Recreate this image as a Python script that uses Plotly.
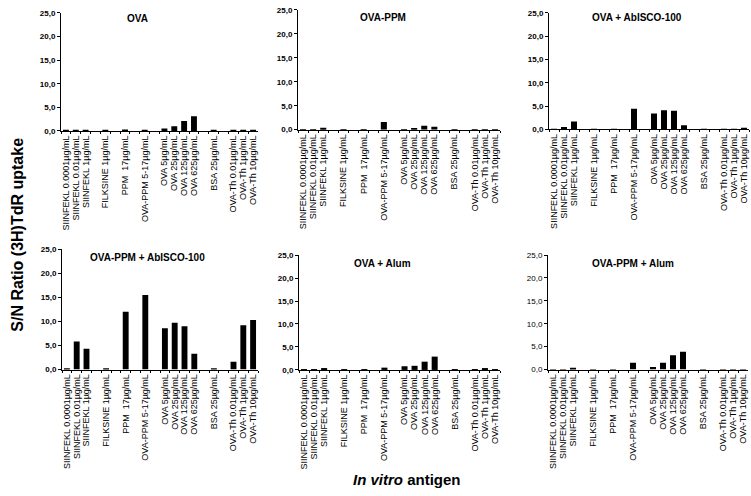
import plotly.graph_objects as go

W, H = 751, 496

categories = ["SIINFEKL 0.0001µg/mL", "SIINFEKL 0.01µg/mL", "SIINFEKL 1µg/mL",
              "FILKSINE 1µg/mL", "PPM  17µg/mL", "OVA-PPM 5-17µg/mL",
              "OVA 5µg/mL", "OVA 25µg/mL", "OVA 125µg/mL", "OVA 625µg/mL",
              "BSA 25µg/mL", "OVA-Th 0.01µg/mL", "OVA-Th 1µg/mL", "OVA-Th 10µg/mL"]
group_sizes = [3, 1, 1, 1, 4, 1, 3]

panel_titles = ["OVA", "OVA-PPM", "OVA + AbISCO-100",
                "OVA-PPM + AbISCO-100", "OVA + Alum", "OVA-PPM + Alum"]

ova = [0.1, 0.2, 0.2, 0.1, 0.3, 0.2, 0.5, 1.0, 2.1, 3.1, 0.1, 0.1, 0.1, 0.1]
ova_ppm = [0.1, 0.1, 0.4, 0.1, 0.1, 1.6, 0.1, 0.2, 0.8, 0.6, 0.1, 0.1, 0.1, 0.1]
ova_abisco = [0.1, 0.5, 1.7, 0.1, 0.1, 4.4, 3.4, 4.1, 4.0, 0.9, 0.1, 0.1, 0.1, 0.35]
ova_ppm_abisco = [0.1, 5.8, 4.3, 0.1, 12.0, 15.5, 8.6, 9.7, 9.0, 3.3, 0.1, 1.6, 9.2, 10.3]
ova_alum = [0.1, 0.1, 0.3, 0.1, 0.1, 0.5, 0.8, 0.9, 1.8, 2.9, 0.1, 0.1, 0.2, 0.1]
ova_ppm_alum = [0.1, 0.1, 0.4, 0.1, 0.1, 1.5, 0.55, 1.5, 3.1, 3.9, 0.1, 0.1, 0.1, 0.1]

series = [ova, ova_ppm, ova_abisco, ova_ppm_abisco, ova_alum, ova_ppm_alum]

y_ticks = [0, 5, 10, 15, 20, 25]

# category order with blank spacer slots between groups
cat_order = []
idx = 0
for g, n in enumerate(group_sizes):
    cat_order.extend(categories[idx:idx + n])
    idx += n
    if g < len(group_sizes) - 1:
        cat_order.append(" " * (g + 1))

# panel boxes in pixels: (x0, x1, ytop, ybottom), title center (x, y)
boxes = [(61, 258, 9, 129.3), (298, 500, 6, 128), (549, 749, 9, 127.7),
         (62, 258, 249.7, 372.3), (299, 500, 255.7, 372.7), (548, 748, 255.7, 372.3)]
title_pos = [(137, 15), (383, 14), (637, 14), (147, 258), (382, 264), (633, 264)]

FONT = "Liberation Sans, Arial, sans-serif"
fig = go.Figure()
annotations = []
for i, (vals, box) in enumerate(zip(series, boxes)):
    n = i + 1
    xa = "x" if n == 1 else f"x{n}"
    ya = "y" if n == 1 else f"y{n}"
    fig.add_trace(go.Bar(x=categories, y=vals, xaxis=xa, yaxis=ya,
                         marker=dict(color="black", line=dict(width=0)),
                         width=0.6, showlegend=False, cliponaxis=False))
    x0, x1, yt, yb = box
    xkey = "xaxis" if n == 1 else f"xaxis{n}"
    ykey = "yaxis" if n == 1 else f"yaxis{n}"
    fig.layout[xkey] = dict(
        domain=[x0 / W, x1 / W], anchor=ya, type="category",
        categoryorder="array", categoryarray=cat_order,
        range=[-0.5, len(cat_order) - 0.5],
        tickmode="linear", tick0=0, dtick=1,
        tickangle=-90, tickfont=dict(family=FONT, size=9, color="black"),
        showline=True, linecolor="black", linewidth=1,
        ticks="outside", ticklen=2, tickcolor="black", tickson="boundaries",
        showgrid=False, zeroline=False, fixedrange=True)
    fig.layout[ykey] = dict(
        domain=[1 - yb / H, 1 - yt / H], anchor=xa, range=[0, 25],
        tickvals=y_ticks, tickformat=".1f",
        tickfont=dict(family=FONT, size=8, color="black",
                      weight="bold" if n != 6 else "normal"),
        showline=True, linecolor="black", linewidth=1,
        ticks="outside", ticklen=3, tickcolor="black",
        showgrid=False, zeroline=False, fixedrange=True)
    tx, ty = title_pos[i]
    annotations.append(dict(text=panel_titles[i], x=tx / W, y=1 - ty / H,
                            xref="paper", yref="paper", showarrow=False,
                            xanchor="center", yanchor="middle",
                            font=dict(family=FONT, size=10, color="black", weight="bold")))

annotations.append(dict(text="S/N Ratio (3H)TdR uptake", x=18 / W, y=1 - 235 / H,
                        xref="paper", yref="paper", showarrow=False, textangle=-90,
                        xanchor="center", yanchor="middle",
                        font=dict(family=FONT, size=16, color="black", weight="bold")))
annotations.append(dict(text="<i>In vitro</i> antigen", x=407 / W, y=1 - 484 / H,
                        xref="paper", yref="paper", showarrow=False,
                        xanchor="center", yanchor="middle",
                        font=dict(family=FONT, size=15, color="black", weight="bold")))

fig.update_layout(width=W, height=H, margin=dict(l=0, r=0, t=0, b=0),
                  paper_bgcolor="white", plot_bgcolor="white",
                  separators=",.", annotations=annotations, bargap=0.4)

fig.write_html("out.html", config={"displayModeBar": False},
               post_script="document.body.style.margin='0px';document.body.style.overflow='hidden';")
